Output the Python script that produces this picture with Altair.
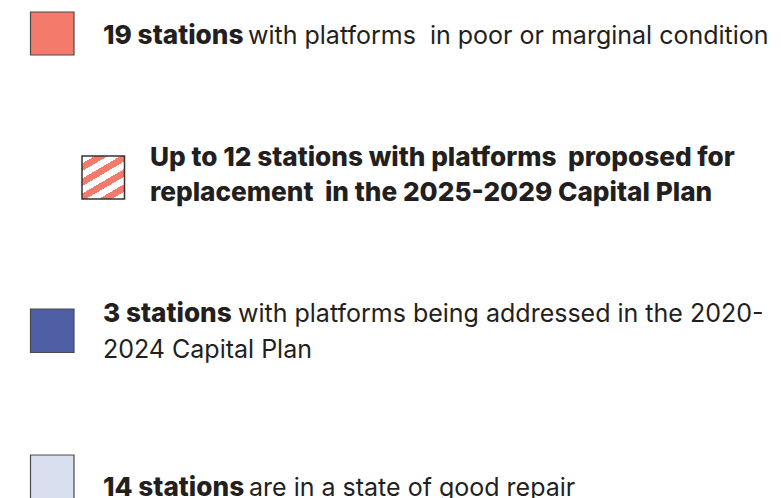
import altair as alt
import pandas as pd

# ---- data ----
square_keys = ["poor", "proposed", "addressed", "good"]
square_fill = ["#F47A6C", "striped", "#4F5FA6", "#D9DFEE"]
sq_x0 = [30.5, 82, 30.5, 30.5]
sq_x1 = [74, 124.5, 74, 74]
sq_y0 = [12, 156, 309, 455]
sq_y1 = [55, 199, 352.5, 499]

NB = "\u00a0"
text_labels = [
    "19 stations",
    "with platforms" + NB + " in poor or marginal condition",
    "Up to 12 stations with platforms" + NB + " proposed for",
    "replacement" + NB + " in the 2025-2029 Capital Plan",
    "3 stations",
    "with platforms being addressed in the 2020-",
    "2024 Capital Plan",
    "14 stations",
    "are in a state of good repair",
]
text_bold = [True, False, True, True, True, False, False, True, False]
text_x = [103, 248, 150, 150, 103, 238, 103, 103, 249]
text_y = [44, 44, 166, 201, 322, 322, 358, 496, 496]

W, H = 765, 490
FONT = "Inter"
INK = "#231F20"
CORAL = "#F47A6C"

sq = pd.DataFrame({"key": square_keys, "fill": square_fill,
                   "x0": sq_x0, "x1": sq_x1, "y0": sq_y0, "y1": sq_y1})
tx = pd.DataFrame({"label": text_labels, "bold": text_bold,
                   "x": text_x, "y": text_y})

xs = alt.Scale(domain=[8, 8 + W], nice=False, zero=False)
ys = alt.Scale(domain=[8, 8 + H], nice=False, zero=False, reverse=True)

solid = alt.Chart(sq).transform_filter(alt.datum.fill != "striped").mark_rect(
    stroke="#4a4a4a", strokeWidth=1.2
).encode(
    x=alt.X("x0:Q", scale=xs, axis=None), x2="x1:Q",
    y=alt.Y("y0:Q", scale=ys, axis=None), y2="y1:Q",
    fill=alt.Fill("fill:N", scale=None),
)

# diagonal stripes via a hard-stop linear gradient
stops = []
n_bands = 9
for i in range(n_bands):
    c = "#FFFFFF" if i % 2 == 0 else CORAL
    stops.append({"offset": i / n_bands, "color": c})
    stops.append({"offset": (i + 1) / n_bands, "color": c})
grad = {"gradient": "linear", "x1": 0, "y1": 0, "x2": 0.683, "y2": 1.183,
        "stops": stops}

striped = alt.Chart(sq).transform_filter(alt.datum.fill == "striped").mark_rect(
    fill=grad, stroke="#333333", strokeWidth=1.5
).encode(
    x=alt.X("x0:Q", scale=xs, axis=None), x2="x1:Q",
    y=alt.Y("y0:Q", scale=ys, axis=None), y2="y1:Q",
)

bold_txt = alt.Chart(tx).transform_filter(alt.datum.bold).mark_text(
    font=FONT, fontSize=26.2, fontWeight=800, color=INK,
    align="left", baseline="alphabetic"
).encode(
    x=alt.X("x:Q", scale=xs, axis=None),
    y=alt.Y("y:Q", scale=ys, axis=None),
    text="label:N",
)

reg_txt = alt.Chart(tx).transform_filter(~alt.datum.bold).mark_text(
    font=FONT, fontSize=25, fontWeight=400, color=INK,
    align="left", baseline="alphabetic"
).encode(
    x=alt.X("x:Q", scale=xs, axis=None),
    y=alt.Y("y:Q", scale=ys, axis=None),
    text="label:N",
)

chart = alt.layer(solid, striped, bold_txt, reg_txt).properties(
    width=W, height=H, autosize=alt.AutoSizeParams(type="none"), padding=0,
    background="white",
).configure_view(stroke=None)

chart.save("out.html", embed_options={"renderer": "svg", "actions": False})
